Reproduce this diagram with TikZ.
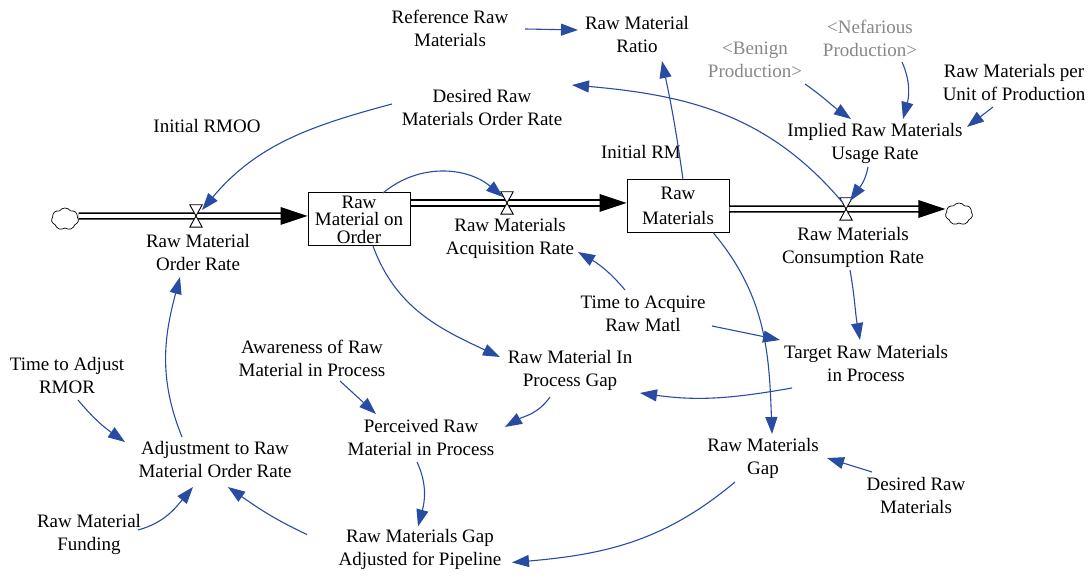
\documentclass[tikz,border=0pt]{standalone}
\usepackage{fontspec}
\setmainfont{Liberation Serif}
\usetikzlibrary{arrows.meta,calc,shapes.symbols}
\definecolor{arrblue}{RGB}{41,76,163}
\definecolor{ghostgray}{RGB}{135,135,135}
\begin{document}
\begin{tikzpicture}[x=1pt,y=1pt,
  lbl/.style={font=\fontsize{19}{23}\selectfont, align=center, inner sep=0pt},
  ghostlbl/.style={lbl, text=ghostgray},
  stockbox/.style={draw, line width=1pt, minimum width=102pt, minimum height=53pt, inner sep=0pt, align=center, fill=white},
  valvenode/.style={minimum width=12pt, minimum height=22pt, inner sep=0pt},
  cloudnode/.style={cloud, draw, cloud puffs=7, cloud puff arc=110, aspect=1.2, minimum width=27pt, minimum height=22pt, inner sep=0pt, line width=0.7pt, fill=white},
  pipe/.style={draw, line width=1.8pt, double=white, double distance=3.6pt},
  valveshape/.style={fill=white, draw=black, line width=0.9pt, line join=miter},
  arr/.style={draw=arrblue, line width=1.1pt, -{Triangle[length=17pt,width=12pt]}}
]
\useasboundingbox (0,0) rectangle (1091,575);

% stocks and clouds
\node[stockbox, font=\fontsize{19}{17.5}\selectfont] (rmo) at (359,355.5) {Raw\\Material on\\Order};
\node[stockbox, font=\fontsize{19}{25}\selectfont] (rm) at (678,369) {Raw\\Materials};
\node[cloudnode] (cloudL) at (65,356) {};
\node[cloudnode] (cloudR) at (959,361) {};

% pipe tips
\coordinate (t1) at ($(rmo.west)+(0,3.5)$);
\coordinate (t2) at ($(rm.west)+(0,3)$);
\coordinate (t3) at ($(cloudR.west)+(0,5)$);

\draw[pipe] ($(cloudL.east)+(0,3)$) -- ($(t1)+(-20,0)$);
\draw[pipe] ($(rmo.east)+(0,16.5)$) -- ($(t2)+(-20,0)$);
\draw[pipe] ($(rm.east)+(0,-3)$) -- ($(t3)+(-20,0)$);
\fill (t1) -- ++(-27,9) -- ++(0,-18) -- cycle;
\fill (t2) -- ++(-27,9) -- ++(0,-18) -- cycle;
\fill (t3) -- ++(-27,9) -- ++(0,-18) -- cycle;

% valves
\node[valvenode] (v1) at (196,359) {};
\node[valvenode] (v2) at (507,372) {};
\node[valvenode] (v3) at (846,366) {};
\path[valveshape] (v1.north west) -- (v1.north east) -- (v1.south west) -- (v1.south east) -- cycle;
\path[valveshape] (v2.north west) -- (v2.north east) -- (v2.south west) -- (v2.south east) -- cycle;
\path[valveshape] (v3.north west) -- (v3.north east) -- (v3.south west) -- (v3.south east) -- cycle;

% variables
\node[lbl] (ref) at (450,547) {Reference Raw\\Materials};
\node[lbl] (ratio) at (637,540) {Raw Material\\Ratio};
\node[ghostlbl] (benign) at (755,515) {\textless Benign\\Production\textgreater};
\node[ghostlbl] (nef) at (870,537) {\textless Nefarious\\Production\textgreater};
\node[lbl] (perunit) at (1014,492) {Raw Materials per\\Unit of Production};
\node[lbl] (implied) at (875,432) {Implied Raw Materials\\Usage Rate};
\node[lbl] (drmor) at (482,467) {Desired Raw\\Materials Order Rate};
\node[lbl] (initrmoo) at (207,449) {Initial RMOO};
\node[lbl] (initrm) at (641,423) {Initial RM};
\node[lbl] (rmor) at (198,322) {Raw Material\\Order Rate};
\node[lbl] (acq) at (510,337) {Raw Materials\\Acquisition Rate};
\node[lbl] (cons) at (853,328) {Raw Materials\\Consumption Rate};
\node[lbl] (ttaq) at (643,261) {Time to Acquire\\Raw Matl};
\node[lbl] (target) at (866,211) {Target Raw Materials\\in Process};
\node[lbl] (ipgap) at (570,205) {Raw Material In\\Process Gap};
\node[lbl] (aware) at (312,217) {Awareness of Raw\\Material in Process};
\node[lbl] (ttadj) at (67,199) {Time to Adjust\\RMOR};
\node[lbl] (perceived) at (421,137) {Perceived Raw\\Material in Process};
\node[lbl] (rmgap) at (763,117) {Raw Materials\\Gap};
\node[lbl] (adj) at (215,115) {Adjustment to Raw\\Material Order Rate};
\node[lbl] (drm) at (916,79) {Desired Raw\\Materials};
\node[lbl] (funding) at (89,41) {Raw Material\\Funding};
\node[lbl] (gapadj) at (420,25.5) {Raw Materials Gap\\Adjusted for Pipeline};

% connectors
\draw[arr] ($(ref)+(75,-1)$) -- ($(ratio)+(-59,5)$);
\draw[arr] ($(rm)+(5,26.5)$) to[out=98,in=-78] ($(ratio)+(25,-26)$);
\draw[arr] ($(v3)+(-3,6)$) to[out=130,in=-5] ($(drmor)+(90,23)$);
\draw[arr] ($(benign)+(50,-24)$) to[out=-35,in=145] ($(implied)+(-24,24)$);
\draw[arr] ($(nef)+(32,-24)$) to[out=-66,in=75] ($(implied)+(28,24)$);
\draw[arr] ($(perunit)+(-21,-24)$) -- ($(implied)+(92,16)$);
\draw[arr] ($(implied)+(-7,-24)$) to[out=-100,in=55] ($(v3)+(4,8)$);
\draw[arr] ($(drmor)+(-90,4)$) to[out=195,in=50] ($(v1)+(6,6)$);
\draw[arr] ($(rmo)+(24,26.5)$) to[out=40,in=140] ($(v2)+(-4,6)$);
\draw[arr] ($(rmo)+(14,-26.5)$) to[out=-70,in=155] ($(ipgap)+(-70,13)$);
\draw[arr] ($(ttaq)+(-18,24)$) to[out=130,in=-30] ($(acq)+(68,-14)$);
\draw[arr] ($(ttaq)+(69,-12)$) -- ($(target)+(-86,24)$);
\draw[arr] ($(rm)+(35,-26.5)$) to[out=-50,in=92] ($(rmgap)+(9,24)$);
\draw[arr] ($(cons)+(-3,-23)$) to[out=-80,in=100] ($(target)+(-6,24)$);
\draw[arr] ($(target)+(-74,-24)$) to[out=190,in=-8] ($(ipgap)+(70,-23)$);
\draw[arr] ($(ipgap)+(-20,-27)$) to[out=235,in=30] ($(perceived)+(84,11)$);
\draw[arr] ($(aware)+(28,-23)$) -- ($(perceived)+(-45,24)$);
\draw[arr] ($(rmgap)+(-28,-24)$) to[out=220,in=5] ($(gapadj)+(92,-13)$);
\draw[arr] ($(drm)+(-44,24)$) -- ($(rmgap)+(64,0)$);
\draw[arr] ($(perceived)+(-4,-24)$) to[out=-65,in=75] ($(gapadj)+(-2,23)$);
\draw[arr] ($(gapadj)+(-113,15)$) to[out=155,in=-35] ($(adj)+(13,-27)$);
\draw[arr] ($(funding)+(49,4)$) to[out=15,in=-130] ($(adj)+(-22,-27)$);
\draw[arr] ($(ttadj)+(11,-24)$) to[out=-50,in=145] ($(adj)+(-90,18)$);
\draw[arr] ($(adj)+(-33,23)$) to[out=112,in=-105] ($(rmor)+(-18,-24)$);
\end{tikzpicture}
\end{document}
